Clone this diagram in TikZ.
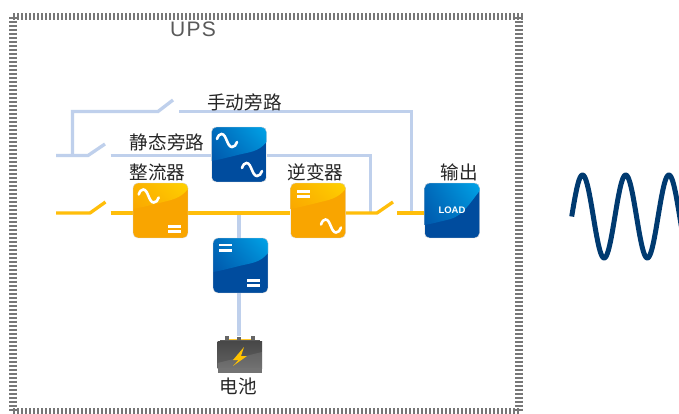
\documentclass[tikz,border=0pt]{standalone}
\usepackage{fontspec}
\setmainfont{Liberation Sans}
\newfontfamily\cjk{Noto Sans CJK SC}
\newfontfamily\upsfont[LetterSpace=6]{Liberation Sans}
\usetikzlibrary{backgrounds,shadings}
\definecolor{bypass}{HTML}{BFD0EC}
\definecolor{mainline}{HTML}{FFBE0A}
\definecolor{borderc}{HTML}{777777}
\definecolor{wavec}{HTML}{003A70}
\definecolor{bluebase}{HTML}{004C9E}
\definecolor{bluehi}{HTML}{00A4E8}
\definecolor{bluelo}{HTML}{0058AC}
\definecolor{orgbase}{HTML}{F9A500}
\definecolor{orghi}{HTML}{FFD200}
\definecolor{orglo}{HTML}{FAA800}
\tikzset{
  bluewire/.style={draw=bypass,line width=3.3pt},
  yellowwire/.style={draw=mainline,line width=3.3pt},
  edgeline/.style={draw=borderc,line width=7.5pt,dash pattern=on 2pt off 2pt},
  lab/.style={font=\cjk\fontsize{18.6}{19}\selectfont,text=black!85,inner sep=0pt},
  boxnode/.style={minimum width=55pt,minimum height=55pt,inner sep=0pt,rounded corners=5pt,draw=white!85!black,line width=.4pt},
  iconline/.style={draw=white,line width=2.6pt,line cap=round}
}
% name, x, y, base, lo, hi, left boundary height, right boundary height
\newcommand{\convbox}[8]{%
  \begin{scope}
    \clip[rounded corners=5pt] (#2,#3) rectangle ++(55,55);
    \fill[#4] (#2,#3) rectangle ++(55,55);
    \shade[lower left=#5,upper left=#6!25!#5,lower right=#6!55!#5,upper right=#6]
      (#2,#3) -- (#2+55,#3) -- (#2+55,#3+#8)
      .. controls (#2+47,#3+#8+10) and (#2+38,#3+#7-9) .. (#2+26,#3+#7-6)
      .. controls (#2+14,#3+#7-3) and (#2+6,#3+#7-1) .. (#2,#3+#7) -- cycle;
  \end{scope}
  \node[boxnode] (#1) at (#2+27.5,#3+27.5) {};
}
\newcommand{\sineicon}[2]{%
  \draw[iconline] (#1,#2+6) .. controls (#1+1.2,#2+2.6) and (#1+2.6,#2+1) .. (#1+4.6,#2+1)
    .. controls (#1+9.5,#2+1) and (#1+10,#2+14) .. (#1+15,#2+14)
    .. controls (#1+17.5,#2+14) and (#1+19,#2+12) .. (#1+20,#2+9);
}
\newcommand{\eqicon}[2]{%
  \fill[white] (#1,#2) rectangle ++(13,2.8);
  \fill[white] (#1,#2+5.2) rectangle ++(13,2.8);
}
\begin{document}
\begin{tikzpicture}[x=1pt,y=-1pt]
\useasboundingbox (0,0) rectangle (679,413);

% outer dashed frame
\coordinate (fTL) at (13,16.5);
\coordinate (fTR) at (523,16.5);
\coordinate (fBL) at (13,412);
\coordinate (fBR) at (519,412);
\coordinate (fRT) at (519,16.5);
\draw[edgeline] (fTL) -- (fTR);
\draw[edgeline] (fTL) -- (fBL);
\draw[edgeline] (fRT) -- (fBR);
\draw[edgeline] (fBL) -- (fBR);
\node[font=\upsfont\fontsize{21}{22}\selectfont,text=black!65,inner sep=0pt] (ups) at (193,29) {UPS};

% boxes
\convbox{static}{211.5}{127}{bluebase}{bluelo}{bluehi}{34}{15}
\convbox{rect}{133}{183}{orgbase}{orglo}{orghi}{26}{6}
\convbox{inv}{290.5}{183}{orgbase}{orglo}{orghi}{26}{6}
\convbox{dcdc}{213}{238}{bluebase}{bluelo}{bluehi}{34}{15}
\convbox{load}{424.5}{183}{bluebase}{bluelo}{bluehi}{42}{8}

\sineicon{217}{133}
\sineicon{242}{162}
\sineicon{138.7}{188.5}
\eqicon{167.5}{224.7}
\eqicon{297.3}{190}
\sineicon{321}{218.5}
\eqicon{219}{243.5}
\eqicon{247.3}{279}
\node[font=\bfseries\fontsize{9.5}{10}\selectfont,text=white,inner sep=0pt] (loadtxt) at (452,210) {LOAD};

% battery
\begin{scope}
  \fill[mainline!85!white] (229,338.5) rectangle (251,341);
  \fill[gray!80!black] (225,335.5) rectangle (229,341);
  \fill[gray!80!black] (251,335.5) rectangle (255,341);
  \fill[gray!80!black] (237,336.5) rectangle (241,341);
  \fill[gray!70!black] (220,340) rectangle (260,342);
  \shade[top color=black!72,bottom color=black!62] (217.5,341) rectangle (262,368);
  \fill[white,opacity=.10] (217.5,363) -- (262,352) -- (262,368) -- (217.5,368) -- cycle;
  \fill[black!55] (217.5,368) rectangle (262,372.5);
  \fill[orghi!80!orange] (244,347) -- (233,360) -- (238.5,360) -- (233,366) -- (247,356) -- (241,356) -- cycle;
\end{scope}
\node[minimum width=44pt,minimum height=36pt,inner sep=0pt] (batt) at (239.7,354) {};

% labels
\node[lab] (l1) at (244.5,102) {手动旁路};
\node[lab] (l2) at (167,142) {静态旁路};
\node[lab] (l3) at (157.5,172) {整流器};
\node[lab] (l4) at (315.5,172) {逆变器};
\node[lab] (l5) at (459,172) {输出};
\node[lab] (l6) at (238,386) {电池};

% sine wave output
\draw[wavec,line width=5pt,line join=round] plot[domain=0:112,samples=160,smooth] ({571.7+\x},{216.5-41.5*sin(\x/43.2*360)});

% wires
\coordinate (m0) at (56,155.5);
\coordinate (mj) at (72.5,155.5);
\coordinate (m1) at (88,155.5);
\coordinate (m2) at (105,144);
\coordinate (mc) at (72.5,111.5);
\coordinate (m3) at (158,111.5);
\coordinate (m4) at (173,100);
\coordinate (m5) at (179,111.5);
\coordinate (mr) at (411.5,111.5);
\coordinate (me) at (411.5,213);
\coordinate (s0) at (110.5,155.5);
\coordinate (sr) at (370.5,155.5);
\coordinate (se) at (370.5,213);
\coordinate (y0) at (56,213);
\coordinate (y1) at (90,213);
\coordinate (y2) at (105.5,202);
\coordinate (y3) at (110.5,213);
\coordinate (y4) at (377,213);
\coordinate (y5) at (393,202);
\coordinate (y6) at (397,213);
\coordinate (d0) at (239,213);
\begin{pgfonlayer}{background}
  \fill[white] (0,0) rectangle (679,413);
  \draw[bluewire] (m0) -- (m1) -- (m2);
  \draw[bluewire] (mj) -- (mc) -- (m3) -- (m4);
  \draw[bluewire] (m5) -- (mr) -- (me);
  \draw[bluewire] (s0) -- (static.west |- s0);
  \draw[bluewire] (static.east |- sr) -- (sr) -- (se);
  \draw[bluewire] (d0) -- (d0 |- dcdc.north);
  \draw[bluewire] (d0 |- dcdc.south) -- (d0 |- batt.north);
  \draw[yellowwire] (y0) -- (y1) -- (y2);
  \draw[yellowwire] (y3) -- (rect.west |- y3);
  \draw[yellowwire] (rect.east |- y3) -- (inv.west |- y3);
  \draw[yellowwire] (inv.east |- y3) -- (y4) -- (y5);
  \draw[yellowwire] (y6) -- (load.west |- y6);
\end{pgfonlayer}
\end{tikzpicture}
\end{document}
